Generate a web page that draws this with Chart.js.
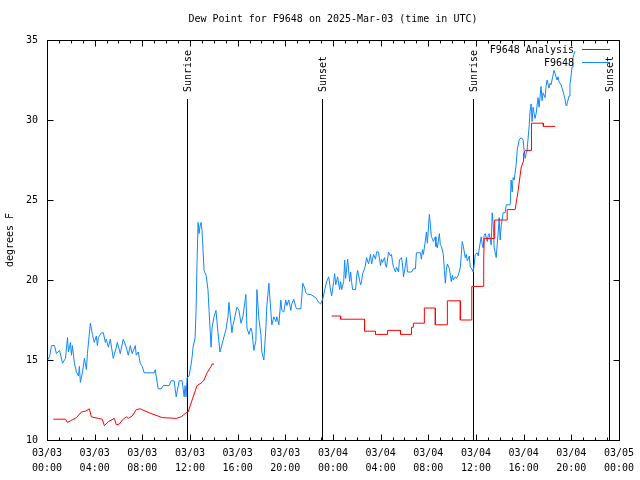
<!DOCTYPE html>
<html>
<head>
<meta charset="utf-8">
<script src="https://cdn.jsdelivr.net/npm/chart.js@4.4.1/dist/chart.umd.min.js"></script>
<style>
  html, body { margin: 0; padding: 0; background: #fff; }
</style>
</head>
<body>
<canvas id="dewChart" width="640" height="480"></canvas>
<script>
// hours since 03/03 00:00 UTC
const blueTimes = [
  0.04, 0.21, 0.38, 0.63, 0.79, 1.05, 1.30, 1.55, 1.72, 1.80,
  1.97, 2.05, 2.13, 2.30, 2.47, 2.64, 2.72, 2.80, 2.97, 3.14,
  3.31, 3.39, 3.64, 3.81, 3.97, 4.14, 4.23, 4.31, 4.56, 4.73,
  4.90, 4.98, 5.15, 5.31, 5.56, 5.82, 5.90, 6.15, 6.40, 6.65,
  6.82, 6.99, 7.15, 7.41, 7.49, 7.66, 7.82, 7.99, 8.16, 9.00,
  9.08, 9.33, 9.58, 9.75, 10.25, 10.42, 10.67, 10.84, 11.09, 11.34,
  11.51, 11.59, 11.67, 11.76, 11.92, 12.09, 12.18, 12.26, 12.43, 12.51,
  12.59, 12.68, 12.76, 12.85, 12.93, 13.01, 13.18, 13.35, 13.51, 13.60,
  13.77, 13.85, 14.02, 14.18, 14.35, 14.52, 14.69, 15.02, 15.19, 15.27,
  15.52, 15.61, 15.77, 15.94, 16.11, 16.28, 16.44, 16.69, 16.78, 16.95,
  17.11, 17.20, 17.36, 17.53, 17.62, 17.78, 17.95, 18.03, 18.20, 18.37,
  18.45, 18.62, 18.79, 18.87, 19.04, 19.21, 19.29, 19.46, 19.62, 19.71,
  19.87, 20.04, 20.13, 20.29, 20.46, 20.54, 20.71, 20.88, 20.96, 21.30,
  21.38, 21.46, 21.63, 21.72, 21.88, 22.13, 22.55, 22.80, 22.97, 23.14,
  23.31, 23.47, 23.64, 23.81, 23.89, 24.06, 24.14, 24.23, 24.39, 24.56,
  24.64, 24.73, 24.90, 24.98, 25.06, 25.15, 25.23, 25.40, 25.48, 25.56,
  25.65, 25.90, 25.98, 26.07, 26.23, 26.32, 26.40, 26.49, 26.65, 26.74,
  26.82, 26.99, 27.15, 27.24, 27.41, 27.57, 27.66, 27.82, 27.99, 28.08,
  28.16, 28.33, 28.41, 28.49, 28.66, 28.83, 28.91, 29.00, 29.08, 29.25,
  29.33, 29.50, 29.58, 29.75, 29.83, 29.92, 30.08, 30.17, 30.25, 30.59,
  30.75, 30.92, 31.00, 31.34, 31.42, 31.51, 31.59, 31.76, 31.84, 31.92,
  32.09, 32.18, 32.26, 32.34, 32.43, 32.59, 32.64, 32.68, 32.76, 32.93,
  33.01, 33.10, 33.26, 33.35, 33.43, 33.51, 33.60, 33.77, 33.85, 33.93,
  34.02, 34.10, 34.27, 34.35, 34.52, 34.69, 34.77, 34.85, 34.94, 35.10,
  35.19, 35.27, 35.44, 35.52, 35.61, 35.77, 35.86, 35.94, 36.11, 36.19,
  36.28, 36.44, 36.53, 36.61, 36.69, 36.78, 36.95, 37.03, 37.11, 37.28,
  37.36, 37.45, 37.53, 37.70, 37.78, 37.87, 37.95, 38.03, 38.12, 38.28,
  38.45, 38.54, 38.87, 38.95, 39.04, 39.12, 39.21, 39.37, 39.46, 39.62,
  39.79, 39.96, 40.04, 40.13, 40.21, 40.29, 40.46, 40.54, 40.63, 40.71,
  40.79, 40.96, 41.05, 41.21, 41.30, 41.46, 41.55, 41.63, 41.80, 41.88,
  41.97, 42.13, 42.22, 42.30, 42.47, 42.55, 42.64, 42.80, 42.89, 42.97,
  43.14, 43.31, 43.47, 43.56, 43.64, 43.81, 43.89, 43.97, 44.06, 44.14,
  44.31
];
const blueValues = [
  15.0, 15.2, 15.9, 15.9, 15.4, 15.6, 14.8, 15.1, 16.4, 15.5,
  16.1, 15.3, 15.9, 14.8, 14.25, 14.0, 14.6, 13.6, 14.2, 15.1,
  14.4, 15.4, 17.3, 16.6, 16.1, 16.5, 15.9, 16.4, 16.7, 16.7,
  16.1, 16.3, 15.8, 16.3, 15.1, 15.8, 16.1, 15.4, 16.3, 15.8,
  15.3, 15.9, 15.4, 15.9, 15.3, 15.5, 14.8, 14.6, 14.2, 14.2,
  14.4, 13.2, 13.2, 13.4, 13.4, 13.7, 13.7, 12.7, 13.7, 13.7,
  12.7, 13.4, 12.7, 13.9, 14.0, 14.7, 15.2, 15.8, 16.4, 18.1,
  21.1, 23.6, 22.9, 23.4, 23.6, 23.1, 20.6, 20.3, 19.4, 18.1,
  15.8, 17.0, 17.7, 18.1, 16.7, 15.5, 16.0, 16.9, 17.7, 18.6,
  16.7, 17.2, 17.7, 18.3, 18.1, 17.3, 17.7, 19.1, 17.0, 16.6,
  17.0, 16.8, 15.6, 16.2, 19.4, 17.6, 16.6, 15.5, 15.0, 17.0,
  18.4, 19.8, 18.0, 17.2, 17.7, 17.4, 17.7, 17.2, 18.75, 18.1,
  18.0, 18.75, 18.4, 18.75, 18.1, 18.5, 18.8, 18.3, 18.2, 18.2,
  18.9, 19.8, 19.5, 19.2, 19.1, 19.1, 18.9, 18.6, 18.5, 18.8,
  19.4, 19.9, 20.2, 19.3, 19.0, 19.9, 20.4, 19.7, 20.2, 19.4,
  19.9, 19.4, 19.9, 21.25, 20.1, 20.7, 21.3, 19.9, 20.5, 19.9,
  19.4, 19.4, 20.2, 20.6, 20.0, 19.7, 19.9, 20.4, 20.7, 21.0,
  21.4, 21.0, 21.6, 21.0, 21.6, 21.3, 21.75, 21.75, 20.9, 21.3,
  21.1, 21.4, 20.9, 20.8, 21.75, 21.5, 21.6, 21.1, 20.8, 20.5,
  20.8, 20.5, 21.25, 21.4, 21.0, 20.2, 20.9, 21.4, 20.5, 20.5,
  20.7, 20.7, 21.7, 21.7, 21.3, 21.9, 21.6, 22.5, 23.0, 22.3,
  24.1, 23.4, 22.7, 22.6, 22.4, 22.7, 22.1, 22.3, 22.0, 22.9,
  22.2, 22.1, 21.6, 20.6, 19.8, 20.6, 21.0, 20.7, 20.3, 19.9,
  20.3, 20.0, 20.2, 20.1, 20.3, 20.8, 21.6, 22.4, 22.1, 21.4,
  21.6, 21.2, 21.5, 20.8, 20.75, 20.5, 21.0, 21.6, 21.7, 21.5,
  22.0, 22.7, 22.2, 22.0, 22.8, 22.9, 22.4, 22.8, 22.9, 22.2,
  24.2, 23.5, 22.0, 21.4, 22.2, 23.0, 23.9, 22.5, 23.4, 24.2,
  24.2, 24.7, 24.7, 26.25, 25.5, 26.4, 26.25, 27.2, 28.1, 28.75,
  28.9, 28.75, 28.1, 27.6, 27.9, 28.1, 29.6, 30.5, 31.0, 29.9,
  30.8, 30.1, 30.4, 31.4, 30.8, 32.1, 31.2, 31.7, 31.4, 32.1,
  32.5, 32.0, 32.3, 32.2, 32.8, 33.1, 32.9, 32.5, 32.7, 32.4,
  32.2, 31.8, 31.3, 30.9, 31.0, 31.5, 32.2, 32.7, 33.3, 33.9,
  34.3
];

// analysis series, null = no data
const redTimes = [
  0.54, 1.55, 1.72, 1.97, 2.47, 2.89, 3.22, 3.56, 3.72, 4.31,
  4.64, 4.81, 5.15, 5.65, 5.82, 6.07, 6.32, 6.65, 6.82, 7.15,
  7.49, 7.82, 8.58, 9.67, 10.84, 11.26, 11.67, 11.84, 12.18, 12.59,
  13.01, 13.18, 13.43, 13.77, 13.85, 14.02,
  18.0,
  23.89, 24.64, 24.64, 26.65, 26.65, 27.57, 27.57, 28.58, 28.58, 29.67,
  29.67, 30.59, 30.59, 30.75, 30.75, 31.67, 31.67, 32.59, 32.59, 33.60,
  33.60, 34.69, 34.69, 35.61, 35.65, 36.61, 36.65, 36.69, 37.57, 37.57,
  38.62, 38.62, 39.29, 39.54, 39.79, 39.96, 40.00, 40.13, 40.63, 40.66,
  41.63, 41.66, 42.64
];
const redValues = [
  11.3, 11.3, 11.1, 11.2, 11.4, 11.75, 11.8, 11.95, 11.45, 11.35,
  11.3, 10.9, 11.15, 11.35, 10.95, 11.0, 11.25, 11.45, 11.35, 11.5,
  11.9, 11.95, 11.7, 11.4, 11.35, 11.45, 11.7, 11.75, 12.5, 13.4,
  13.6, 13.75, 14.2, 14.6, 14.75, 14.75,
  null,
  17.75, 17.75, 17.55, 17.55, 16.8, 16.8, 16.6, 16.6, 16.85, 16.85,
  16.6, 16.6, 17.05, 17.05, 17.3, 17.3, 18.25, 18.25, 17.2, 17.2,
  18.7, 18.7, 17.5, 17.5, 19.6, 19.6, 21.25, 22.6, 22.6, 23.75,
  23.75, 24.4, 24.4, 25.6, 27.0, 27.4, 27.9, 28.1, 28.1, 29.8,
  29.8, 29.6, 29.6
];

const sunTimes = [11.72, 23.08, 35.72, 47.13];
const sunLabels = ['Sunrise', 'Sunset', 'Sunrise', 'Sunset'];

const xTicks = [0, 4, 8, 12, 16, 20, 24, 28, 32, 36, 40, 44, 48];
const yTicks = [10, 15, 20, 25, 30, 35];

const FONT = 'DejaVu Sans Mono';
const RED = '#ff0000';
const BLUE = '#0f87ff';

function toPoints(times, values) {
  return times.map((t, i) => ({ x: t, y: values[i] }));
}

function tickLabel(h) {
  const day = 3 + Math.floor(h / 24);
  const hr = h % 24;
  return ['03/' + String(day).padStart(2, '0'), String(hr).padStart(2, '0') + ':00'];
}

// gnuplot-ish frame, inward ticks, sun markers and legend
const gnuPlugin = {
  id: 'gnuPlugin',
  beforeDatasetsDraw(chart) {
    const { ctx, chartArea: a, scales } = chart;
    ctx.save();
    ctx.strokeStyle = '#000';
    ctx.lineWidth = 1;
    ctx.fillStyle = '#000';
    ctx.font = '10px "' + FONT + '"';
    sunTimes.forEach((t, i) => {
      const x = Math.round(scales.x.getPixelForValue(t)) + 0.5;
      ctx.beginPath();
      ctx.moveTo(x, 99);
      ctx.lineTo(x, a.bottom);
      ctx.stroke();
      ctx.save();
      ctx.translate(x + 1, 92);
      ctx.rotate(-Math.PI / 2);
      ctx.textAlign = 'left';
      ctx.textBaseline = 'middle';
      ctx.fillText(sunLabels[i], 0, 0);
      ctx.restore();
    });
    ctx.restore();
  },
  afterDatasetsDraw(chart) {
    const { ctx, chartArea: a, scales } = chart;
    const L = Math.round(a.left) + 0.5, R = Math.round(a.right) + 0.5;
    const T = Math.round(a.top) + 0.5, B = Math.round(a.bottom) + 0.5;
    ctx.save();
    ctx.strokeStyle = '#000';
    ctx.lineWidth = 1;
    ctx.beginPath();
    for (let h = 0; h <= 48; h++) {
      const x = Math.round(scales.x.getPixelForValue(h)) + 0.5;
      const len = h % 4 === 0 ? 6 : 3;
      ctx.moveTo(x, B); ctx.lineTo(x, B - len);
      ctx.moveTo(x, T); ctx.lineTo(x, T + len);
    }
    yTicks.forEach(v => {
      const y = Math.round(scales.y.getPixelForValue(v)) + 0.5;
      ctx.moveTo(L, y); ctx.lineTo(L + 6, y);
      ctx.moveTo(R, y); ctx.lineTo(R - 6, y);
    });
    ctx.stroke();
    ctx.strokeRect(L, T, R - L, B - T);

    // legend
    ctx.font = '10px "' + FONT + '"';
    ctx.fillStyle = '#000';
    ctx.textAlign = 'right';
    ctx.textBaseline = 'middle';
    chart.data.datasets.forEach((ds, i) => {
      const y = 50 + i * 13;
      ctx.fillText(ds.label, 574, y);
      ctx.strokeStyle = ds.borderColor;
      ctx.beginPath();
      ctx.moveTo(582, y - 0.5);
      ctx.lineTo(610, y - 0.5);
      ctx.stroke();
    });
    ctx.restore();
  }
};

const ctx = document.getElementById('dewChart').getContext('2d');

new Chart(ctx, {
  type: 'line',
  data: {
    datasets: [
      {
        label: 'F9648 Analysis',
        data: toPoints(redTimes, redValues),
        borderColor: RED,
        borderWidth: 1,
        pointRadius: 0,
        tension: 0,
        spanGaps: false
      },
      {
        label: 'F9648',
        data: toPoints(blueTimes, blueValues),
        borderColor: BLUE,
        borderWidth: 1,
        pointRadius: 0,
        tension: 0
      }
    ]
  },
  options: {
    responsive: false,
    animation: false,
    layout: { padding: { left: 0, right: 19, top: 0, bottom: 0 } },
    plugins: {
      legend: { display: false },
      tooltip: { enabled: false },
      title: {
        display: true,
        fullSize: false,
        text: 'Dew Point for F9648 on 2025-Mar-03 (time in UTC)',
        color: '#000',
        font: { family: FONT, size: 10, weight: 'normal' },
        padding: { top: 13, bottom: 15 }
      }
    },
    scales: {
      x: {
        type: 'linear',
        min: 0,
        max: 48,
        afterFit: s => { s.height = 40; },
        afterBuildTicks: s => { s.ticks = xTicks.map(v => ({ value: v })); },
        grid: { display: false, drawTicks: false },
        border: { display: false },
        ticks: {
          color: '#000',
          font: { family: FONT, size: 10, lineHeight: 1.5 },
          padding: 6,
          maxRotation: 0,
          autoSkip: false,
          callback: v => tickLabel(v)
        }
      },
      y: {
        min: 10,
        max: 35,
        afterFit: s => { s.width = 47; },
        afterBuildTicks: s => { s.ticks = yTicks.map(v => ({ value: v })); },
        grid: { display: false, drawTicks: false },
        border: { display: false },
        title: {
          display: true,
          text: 'degrees F',
          color: '#000',
          font: { family: FONT, size: 10 },
          padding: { top: 4, bottom: 0 }
        },
        ticks: {
          color: '#000',
          font: { family: FONT, size: 10 },
          padding: 9
        }
      }
    }
  },
  plugins: [gnuPlugin]
});
</script>
</body>
</html>
